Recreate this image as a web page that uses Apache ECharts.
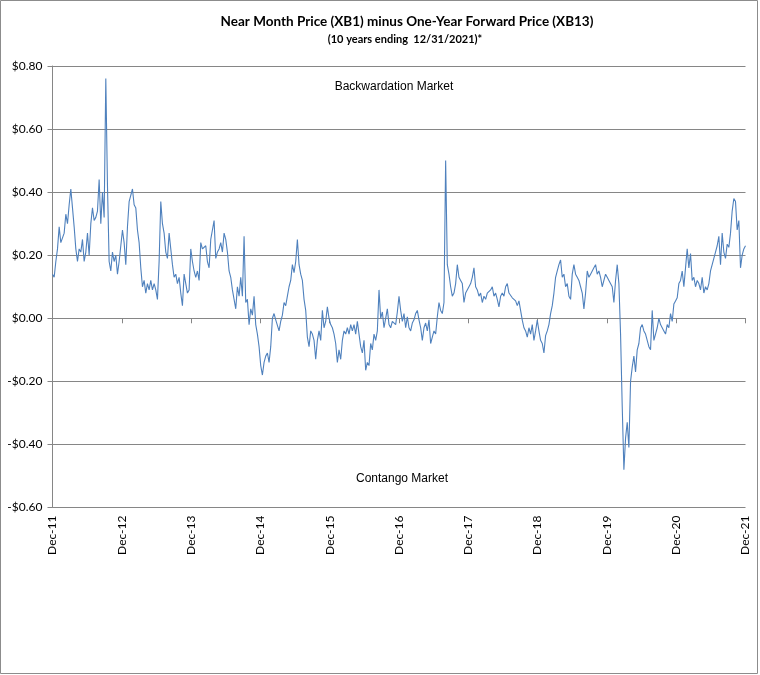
<!DOCTYPE html>
<html><head><meta charset="utf-8">
<script src="https://cdn.jsdelivr.net/npm/echarts@6/dist/echarts.min.js"></script>
<style>html,body{margin:0;padding:0;background:#fff}#c{width:760px;height:675px}</style>
</head><body><div id="c"></div>
<script>
const titleText = 'Near Month Price (XB1) minus One-Year Forward Price (XB13)';
const subtitleText = '(10 years ending  12/31/2021)*';
const noteTop = 'Backwardation Market';
const noteBottom = 'Contango Market';
const xTickLabels = ['Dec-11','Dec-12','Dec-13','Dec-14','Dec-15','Dec-16','Dec-17','Dec-18','Dec-19','Dec-20','Dec-21'];
const yTickLabels = ['-$0.60','-$0.40','-$0.20','$0.00','$0.20','$0.40','$0.60','$0.80'];
// XB1 - XB13 spread ($/gal) at evenly spaced dates, Dec-2011 .. Dec-2021
const spreadValues = [
0.14,0.13,0.18,0.22,0.29,0.24,0.24,0.27,0.33,0.30,
0.36,0.41,0.35,0.29,0.22,0.18,0.22,0.21,0.25,0.18,
0.21,0.27,0.20,0.30,0.35,0.31,0.32,0.34,0.44,0.30,
0.40,0.32,0.76,0.42,0.18,0.15,0.21,0.18,0.20,0.14,
0.18,0.23,0.28,0.24,0.17,0.29,0.37,0.37,0.41,0.36,
0.35,0.28,0.24,0.16,0.10,0.12,0.08,0.11,0.09,0.12,
0.09,0.11,0.09,0.06,0.18,0.37,0.30,0.27,0.21,0.19,
0.27,0.22,0.17,0.13,0.14,0.11,0.13,0.08,0.04,0.14,
0.11,0.08,0.09,0.22,0.18,0.15,0.13,0.15,0.12,0.24,
0.22,0.22,0.23,0.18,0.16,0.25,0.28,0.31,0.19,0.21,
0.22,0.24,0.21,0.27,0.25,0.21,0.15,0.13,0.09,0.06,
0.03,0.10,0.07,0.13,0.07,0.26,0.05,0.06,-0.02,0.03,
0.01,0.07,-0.02,-0.05,-0.09,-0.15,-0.18,-0.14,-0.12,-0.11,
-0.14,-0.09,0.00,0.015,-0.005,0.00,-0.04,-0.01,0.01,0.05,
0.04,0.07,0.10,0.12,0.17,0.145,0.18,0.25,0.17,0.14,
0.12,0.06,0.025,-0.06,-0.09,-0.04,-0.05,-0.07,-0.13,-0.07,
-0.04,-0.07,0.025,-0.03,-0.01,0.036,0.00,-0.02,-0.03,-0.05,
-0.08,-0.14,-0.10,-0.13,-0.07,-0.04,-0.05,-0.03,-0.05,-0.02,
-0.04,-0.02,-0.05,-0.01,-0.05,-0.09,-0.11,-0.07,-0.165,-0.14,
-0.15,-0.08,-0.10,-0.05,-0.07,-0.04,0.09,0.00,0.02,-0.03,
0.00,0.03,-0.02,-0.03,-0.01,-0.01,-0.02,0.02,0.07,0.025,
-0.01,0.015,-0.03,0.005,-0.03,-0.04,-0.015,-0.005,0.015,0.025,
-0.005,-0.03,-0.07,-0.03,-0.015,-0.04,-0.005,-0.08,-0.06,-0.04,
-0.05,0.005,0.05,0.025,0.015,0.05,0.50,0.17,0.14,0.10,
0.07,0.08,0.11,0.17,0.13,0.12,0.11,0.05,0.08,0.08,
0.10,0.11,0.13,0.16,0.10,0.09,0.07,0.08,0.05,0.07,
0.06,0.08,0.08,0.09,0.10,0.07,0.08,0.06,0.036,0.07,
0.08,0.07,0.10,0.11,0.08,0.08,0.065,0.06,0.055,0.04,
0.055,0.06,-0.006,-0.03,-0.04,-0.06,-0.03,-0.05,-0.02,-0.07,
-0.04,-0.006,-0.04,-0.07,-0.08,-0.11,-0.055,-0.04,-0.02,0.015,
0.04,0.08,0.13,0.15,0.17,0.185,0.13,0.14,0.10,0.11,
0.07,0.06,0.14,0.17,0.14,0.13,0.12,0.10,0.08,0.03,
0.08,0.15,0.13,0.14,0.15,0.16,0.17,0.14,0.15,0.13,
0.10,0.12,0.14,0.13,0.12,0.125,0.10,0.05,0.12,0.17,
0.11,-0.05,-0.28,-0.48,-0.38,-0.33,-0.41,-0.20,-0.155,-0.12,
-0.17,-0.10,-0.08,-0.03,-0.02,-0.04,-0.05,-0.07,-0.09,-0.10,
0.025,-0.07,-0.05,-0.03,0.00,-0.02,-0.03,-0.04,-0.05,-0.02,
-0.03,0.015,-0.01,0.045,0.055,0.065,0.11,0.12,0.15,0.10,
0.16,0.22,0.16,0.205,0.12,0.13,0.10,0.12,0.11,0.09,
0.13,0.08,0.10,0.09,0.11,0.15,0.17,0.19,0.21,0.23,
0.26,0.17,0.27,0.21,0.19,0.235,0.225,0.27,0.34,0.38,
0.37,0.28,0.31,0.16,0.20,0.22,0.23
];
const monthsSpan = 120;   // Dec-11 .. Dec-21
const monthsPerTick = 12;

const chart = echarts.init(document.getElementById('c'), null, {renderer: 'canvas'});
const seriesData = spreadValues.map((v, i) => [i * monthsSpan / (spreadValues.length - 1), v]);
const gridColor = '#868686';
const labelFont = 'Lato, "Liberation Sans", sans-serif';

chart.setOption({
  animation: false,
  backgroundColor: '#ffffff',
  grid: {left: 52.5, right: 14.5, top: 66, bottom: 167.5, containLabel: false},
  xAxis: [{
    type: 'value', min: 0, max: monthsSpan, interval: monthsPerTick, position: 'bottom',
    axisLine: {show: false, onZero: false}, axisTick: {show: false}, splitLine: {show: false},
    axisLabel: {rotate: 90, margin: 8, color: '#000', fontFamily: labelFont, fontSize: 12,
      formatter: v => xTickLabels[Math.round(v / monthsPerTick)]}
  }, {
    type: 'value', min: 0, max: monthsSpan, interval: monthsPerTick, position: 'top',
    axisLine: {show: true, onZero: true, lineStyle: {color: gridColor, width: 1}},
    axisTick: {show: true, inside: true, length: 5, lineStyle: {color: gridColor}},
    axisLabel: {show: false}, splitLine: {show: false}
  }],
  yAxis: {
    type: 'value', min: -0.6, max: 0.8, interval: 0.2,
    axisLine: {show: true, lineStyle: {color: gridColor, width: 1}},
    axisTick: {show: true, length: 5, lineStyle: {color: gridColor}},
    splitLine: {show: true, lineStyle: {color: gridColor, width: 1}},
    axisLabel: {margin: 10, color: '#000', fontFamily: labelFont, fontSize: 12,
      formatter: v => yTickLabels[Math.round((v + 0.6) / 0.2)]}
  },
  series: [{
    type: 'line', data: seriesData, xAxisIndex: 0, showSymbol: false, symbol: 'none',
    lineStyle: {color: '#4F81BD', width: 1.1}, z: 5
  }],
  graphic: [
    {type: 'rect', shape: {x: 0.5, y: 0.5, width: 757, height: 673}, style: {fill: 'none', stroke: '#8c8c8c', lineWidth: 1}, silent: true},
    {type: 'text', x: 407, y: 22, style: {text: titleText, align: 'center', verticalAlign: 'middle', fontFamily: labelFont, fontWeight: 'bold', fontSize: 13.5, fill: '#000'}},
    {type: 'text', x: 405, y: 39, style: {text: subtitleText, align: 'center', verticalAlign: 'middle', fontFamily: labelFont, fontWeight: 'bold', fontSize: 11, fill: '#000'}},
    {type: 'text', x: 394, y: 87, style: {text: noteTop, align: 'center', verticalAlign: 'middle', fontFamily: '"Liberation Sans", Arial, sans-serif', fontSize: 12, fill: '#000'}},
    {type: 'text', x: 402, y: 479, style: {text: noteBottom, align: 'center', verticalAlign: 'middle', fontFamily: '"Liberation Sans", Arial, sans-serif', fontSize: 12, fill: '#000'}}
  ]
});
</script></body></html>
